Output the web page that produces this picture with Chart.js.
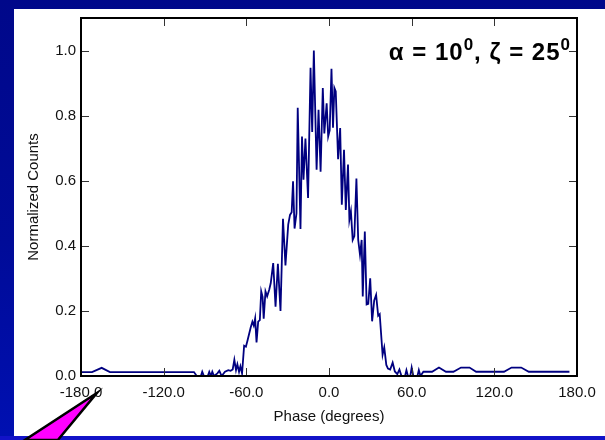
<!DOCTYPE html>
<html>
<head>
<meta charset="utf-8">
<script src="https://cdn.jsdelivr.net/npm/chart.js@4.4.1/dist/chart.umd.min.js"></script>
<style>
  html, body { margin: 0; padding: 0; width: 605px; height: 440px; overflow: hidden; }
  body { position: relative; background: linear-gradient(to bottom, #00088a 0%, #000b98 55%, #0010b2 100%); }
  #panel { position: absolute; left: 14px; top: 9px; width: 591px; height: 427px; background: #ffffff; }
  #bar { position: absolute; left: 0; top: 436px; width: 605px; height: 4px; background: #1212c8; }
  #wrap { position: absolute; left: 0; top: 0; width: 605px; height: 440px; }
</style>
</head>
<body>
<div id="panel"></div>
<div id="bar"></div>
<div id="wrap"><canvas id="c" width="605" height="440"></canvas></div>
<script>
// Pulse profile: phase (degrees) and normalized counts
const phase = [
  -180, -172, -165, -159, -98, -96, -93, -92, -90.8, -88, -86.9, -85.7, -84.7, -83.5,
  -81, -79.6, -77.9, -75.5, -73.1, -71.4, -69.9, -68.7, -67.5, -66.5, -65.3, -64.3, -63.1,
  -61.6, -60.3, -59.1, -56.8, -55.6, -54.6, -53.6, -52.6, -51.4, -50.2, -49.2, -48.2, -47.4,
  -46.1, -44.9, -43.4, -42.3, -40.5, -38.8, -37.1, -35.2, -33.4, -31.6, -29.6, -28.3, -27.1,
  -26.1, -25.0, -23.6, -22.7, -20.7, -19.6, -18.5, -17.1, -15.2, -13.4, -12.2, -11.0, -9.0,
  -7.6, -6.1, -4.5, -3.4, -1.7, -0.6, 0.5, 1.8, 2.9, 3.9, 4.9, 6.6, 8.1, 9.3, 10.9, 12.2,
  13.8, 14.8, 15.9, 17.2, 18.4, 19.9, 21.2, 22.5, 23.7, 24.5, 26.0, 27.3, 28.5, 29.9, 31.3,
  32.8, 34.2, 35.7, 36.8, 38.9, 40.1, 41.6, 42.8, 44.4, 46.2, 47.8, 49.6, 51.1, 52.6, 55.2,
  56.2, 57.3, 59.0, 60.0, 61.2, 64.2, 65.2, 66.4, 68.5, 74.8, 79.8, 84.9, 90.3, 95.8, 102,
  106.8, 127, 132.5, 139.5, 145, 174.5
];
const counts = [
  0.012, 0.012, 0.025, 0.012, 0.012, 0.0, 0.0, 0.013, 0.0, 0.0, 0.013, 0.0, 0.013, 0.0,
  0.008, 0.016, 0.0, 0.013, 0.018, 0.016, 0.02, 0.05, 0.018, 0.036, 0.013, 0.03, 0.008,
  0.093, 0.09, 0.11, 0.15, 0.167, 0.155, 0.177, 0.103, 0.167, 0.172, 0.26, 0.243, 0.176,
  0.26, 0.245, 0.265, 0.285, 0.347, 0.213, 0.345, 0.2, 0.483, 0.34, 0.465, 0.495, 0.503,
  0.598, 0.453, 0.50, 0.824, 0.452, 0.736, 0.603, 0.73, 0.547, 0.947, 0.75, 1.0, 0.634,
  0.818, 0.628, 0.885, 0.745, 0.838, 0.736, 0.755, 0.944, 0.763, 0.885, 0.874, 0.666, 0.762, 0.526, 0.695, 0.51,
  0.65, 0.48, 0.506, 0.418, 0.43, 0.607, 0.418, 0.372, 0.418, 0.244, 0.444, 0.22, 0.222, 0.30, 0.168,
  0.232, 0.249, 0.185, 0.19, 0.065, 0.088, 0.034, 0.023, 0.02, 0.041, 0.014, 0.006, 0.02, 0.0, 0.0,
  0.018, 0.0, 0.0, 0.026, 0.0, 0.0, 0.018, 0.0, 0.013, 0.013, 0.026, 0.013, 0.013, 0.026, 0.026,
  0.013, 0.013, 0.026, 0.026, 0.013, 0.013
];
const xTicks = [-180, -120, -60, 0, 60, 120, 180];
const yTicks = [0, 0.2, 0.4, 0.6, 0.8, 1.0];

const FONT = '"Liberation Sans", Arial, Helvetica, sans-serif';
const INK = '#111111';

// Box frame with inward-pointing tick marks on all four sides
const frameTicks = {
  id: 'frameTicks',
  afterDatasetsDraw(chart) {
    const { ctx, chartArea: a, scales: { x, y } } = chart;
    ctx.save();
    ctx.strokeStyle = '#333333';
    ctx.lineWidth = 1;
    const len = 8;
    xTicks.slice(1, -1).forEach(v => {
      const px = Math.round(x.getPixelForValue(v)) + 0.5;
      ctx.beginPath();
      ctx.moveTo(px, a.bottom); ctx.lineTo(px, a.bottom - len);
      ctx.moveTo(px, a.top); ctx.lineTo(px, a.top + len);
      ctx.stroke();
    });
    yTicks.slice(1).forEach(v => {
      const py = Math.round(y.getPixelForValue(v)) + 0.5;
      ctx.beginPath();
      ctx.moveTo(a.left, py); ctx.lineTo(a.left + len, py);
      ctx.moveTo(a.right, py); ctx.lineTo(a.right - len, py);
      ctx.stroke();
    });
    ctx.strokeStyle = '#000000';
    ctx.lineWidth = 2;
    ctx.strokeRect(a.left, a.top, a.right - a.left, a.bottom - a.top);
    ctx.restore();
  }
};

// Geometry label in the upper right corner and the pointer arrow
const decorations = {
  id: 'decorations',
  afterDraw(chart) {
    const { ctx, chartArea: a, scales: { x } } = chart;
    ctx.save();
    const parts = [
      { t: '\u03b1 = 10', sup: false },
      { t: '0', sup: true },
      { t: ', \u03b6 = 25', sup: false },
      { t: '0', sup: true }
    ];
    const bigFont = 'bold 24px ' + FONT;
    const supFont = 'bold 17px ' + FONT;
    ctx.letterSpacing = '1px';
    let total = 0;
    parts.forEach(p => { ctx.font = p.sup ? supFont : bigFont; p.w = ctx.measureText(p.t).width; total += p.w; });
    let cx = a.right - 6 - total;
    const base = a.top + 42;
    ctx.fillStyle = '#000000';
    ctx.textBaseline = 'alphabetic';
    ctx.textAlign = 'left';
    parts.forEach(p => {
      ctx.font = p.sup ? supFont : bigFont;
      ctx.fillText(p.t, cx, p.sup ? base - 10 : base);
      cx += p.w;
    });
    ctx.letterSpacing = '0px';

    // magenta pointer aimed at the first phase label
    const tipX = x.getPixelForValue(-168.5);
    const tipY = a.bottom + 17;
    ctx.beginPath();
    ctx.moveTo(tipX, tipY);
    ctx.lineTo(tipX - 72, tipY + 47);
    ctx.lineTo(tipX - 39, tipY + 47);
    ctx.closePath();
    ctx.fillStyle = '#ff00ff';
    ctx.fill();
    ctx.lineWidth = 2.5;
    ctx.lineJoin = 'miter';
    ctx.strokeStyle = '#000000';
    ctx.stroke();
    ctx.restore();
  }
};

new Chart(document.getElementById('c'), {
  type: 'line',
  data: {
    datasets: [{
      data: phase.map((p, i) => ({ x: p, y: counts[i] })),
      borderColor: '#000080',
      borderWidth: 1.8,
      pointRadius: 0,
      tension: 0,
      fill: false
    }]
  },
  options: {
    responsive: false,
    animation: false,
    devicePixelRatio: 1,
    layout: { padding: { left: 0, top: 18, right: 28, bottom: 0 } },
    plugins: { legend: { display: false }, tooltip: { enabled: false } },
    scales: {
      x: {
        type: 'linear',
        position: 'bottom',
        min: -180,
        max: 180,
        afterBuildTicks: s => { s.ticks = xTicks.map(v => ({ value: v })); },
        afterFit: s => { s.height = 64; },
        ticks: {
          callback: v => Number(v).toFixed(1),
          font: { family: FONT, size: 15 },
          color: INK,
          padding: 8,
          maxRotation: 0,
          autoSkip: false
        },
        grid: { display: false, drawTicks: false },
        border: { display: false },
        title: {
          display: true,
          text: 'Phase (degrees)',
          font: { family: FONT, size: 15 },
          color: INK,
          padding: { top: 0, bottom: 14 }
        }
      },
      y: {
        type: 'linear',
        min: 0,
        max: 1.1,
        afterBuildTicks: s => { s.ticks = yTicks.map(v => ({ value: v })); },
        afterFit: s => { s.width = 81; },
        ticks: {
          callback: v => Number(v).toFixed(1),
          font: { family: FONT, size: 15 },
          color: INK,
          padding: 5
        },
        grid: { display: false, drawTicks: false },
        border: { display: false },
        title: {
          display: true,
          text: 'Normalized Counts',
          font: { family: FONT, size: 15 },
          color: INK,
          padding: { top: 25, bottom: 0 }
        }
      }
    }
  },
  plugins: [frameTicks, decorations]
});
</script>
</body>
</html>
